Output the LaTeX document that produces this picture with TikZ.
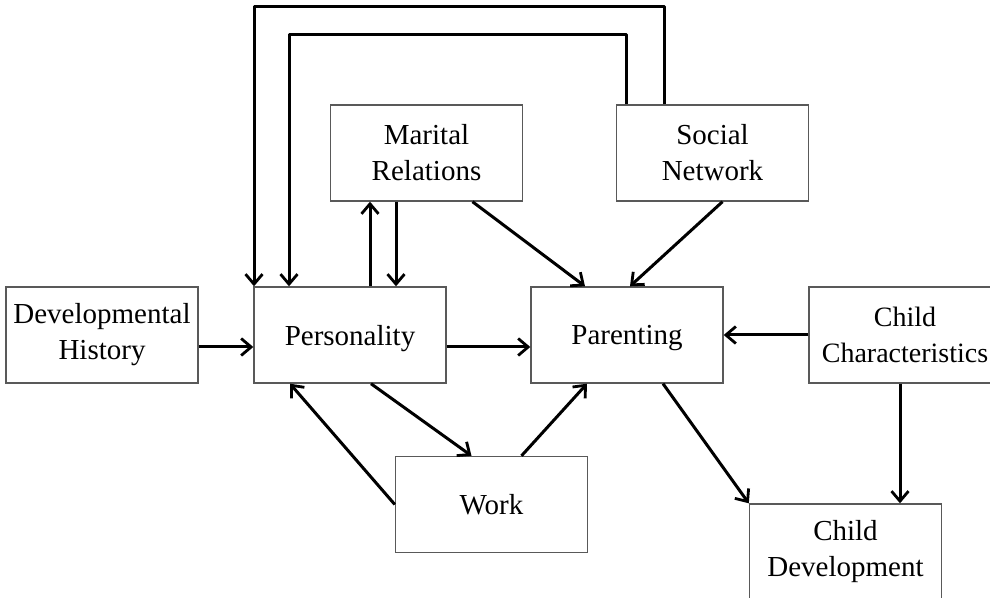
\documentclass[tikz,border=0pt]{standalone}
\usepackage{fontspec}
\setmainfont{Liberation Serif}
\usetikzlibrary{arrows.meta, calc}

\begin{document}
\begin{tikzpicture}[x=0.5pt, y=-0.5pt,
    box/.style={draw=black!65, line width=0.7pt, rectangle, minimum width=96pt, minimum height=48pt,
                align=center, font=\fontsize{14.5pt}{18pt}\selectfont, inner sep=0pt},
    arr/.style={line width=1.5pt, line join=round, -{Straight Barb[length=5pt, width=8.5pt, line width=1.4pt]}}]

    % Frame
    \useasboundingbox (0,0) rectangle (990,598);

    % Boxes
    \node[box] (devhist) at (102,335) {Developmental\\History};
    \node[box, text depth=0pt] (pers) at (350,335) {Personality};
    \node[box, text depth=0pt] (par) at (627,335) {Parenting};
    \node[box, font=\fontsize{14pt}{18pt}\selectfont] (chch) at (905,335) {Child\\Characteristics};
    \node[box] (mar) at (426.5,153) {Marital\\Relations};
    \node[box] (soc) at (712.5,153) {Social\\Network};
    \node[box, text depth=0pt] (work) at (491.5,504.5) {Work};
    \node[box] (chdev) at (845.5,552) {Child\\Development};

    % Top lines
    \coordinate (topA) at (0,7);
    \coordinate (topB) at (0,35);

    % Horizontal arrows
    \draw[arr] ([yshift=-6pt]devhist.east) -- ([yshift=-6pt]pers.west);
    \draw[arr] ([yshift=-6pt]pers.east) -- ([yshift=-6pt]par.west);
    \draw[arr] (chch.west) -- (par.east);

    % Marital and Social Network
    \draw[arr] ([xshift=10pt]pers.north) -- ([xshift=10pt]pers.north |- mar.south);
    \draw[arr] ([xshift=23pt]pers.north |- mar.south) -- ([xshift=23pt]pers.north);
    \draw[arr] ([xshift=23pt]mar.south) -- ([xshift=-21pt]par.north);
    \draw[arr] ([xshift=5pt]soc.south) -- ([xshift=1.5pt]par.north);
    \draw[arr] ([xshift=-24pt]soc.north) -- ([xshift=-24pt]soc.north |- topA) -| ([xshift=-48pt]pers.north);
    \draw[arr] ([xshift=-43pt]soc.north) -- ([xshift=-43pt]soc.north |- topB) -| ([xshift=-30.5pt]pers.north);

    % Work
    \draw[arr] ([xshift=10.5pt]pers.south) -- ([xshift=-10pt]work.north);
    \draw[arr] (work.west) -- ([xshift=-30pt]pers.south);
    \draw[arr] ([xshift=15pt]work.north) -- ([xshift=-20pt]par.south);

    % Child Development
    \draw[arr] ([xshift=18pt]par.south) -- (chdev.north west);
    \draw[arr] ([xshift=-2.5pt]chch.south) -- ([xshift=-2.5pt]chch.south |- chdev.north);

\end{tikzpicture}
\end{document}
